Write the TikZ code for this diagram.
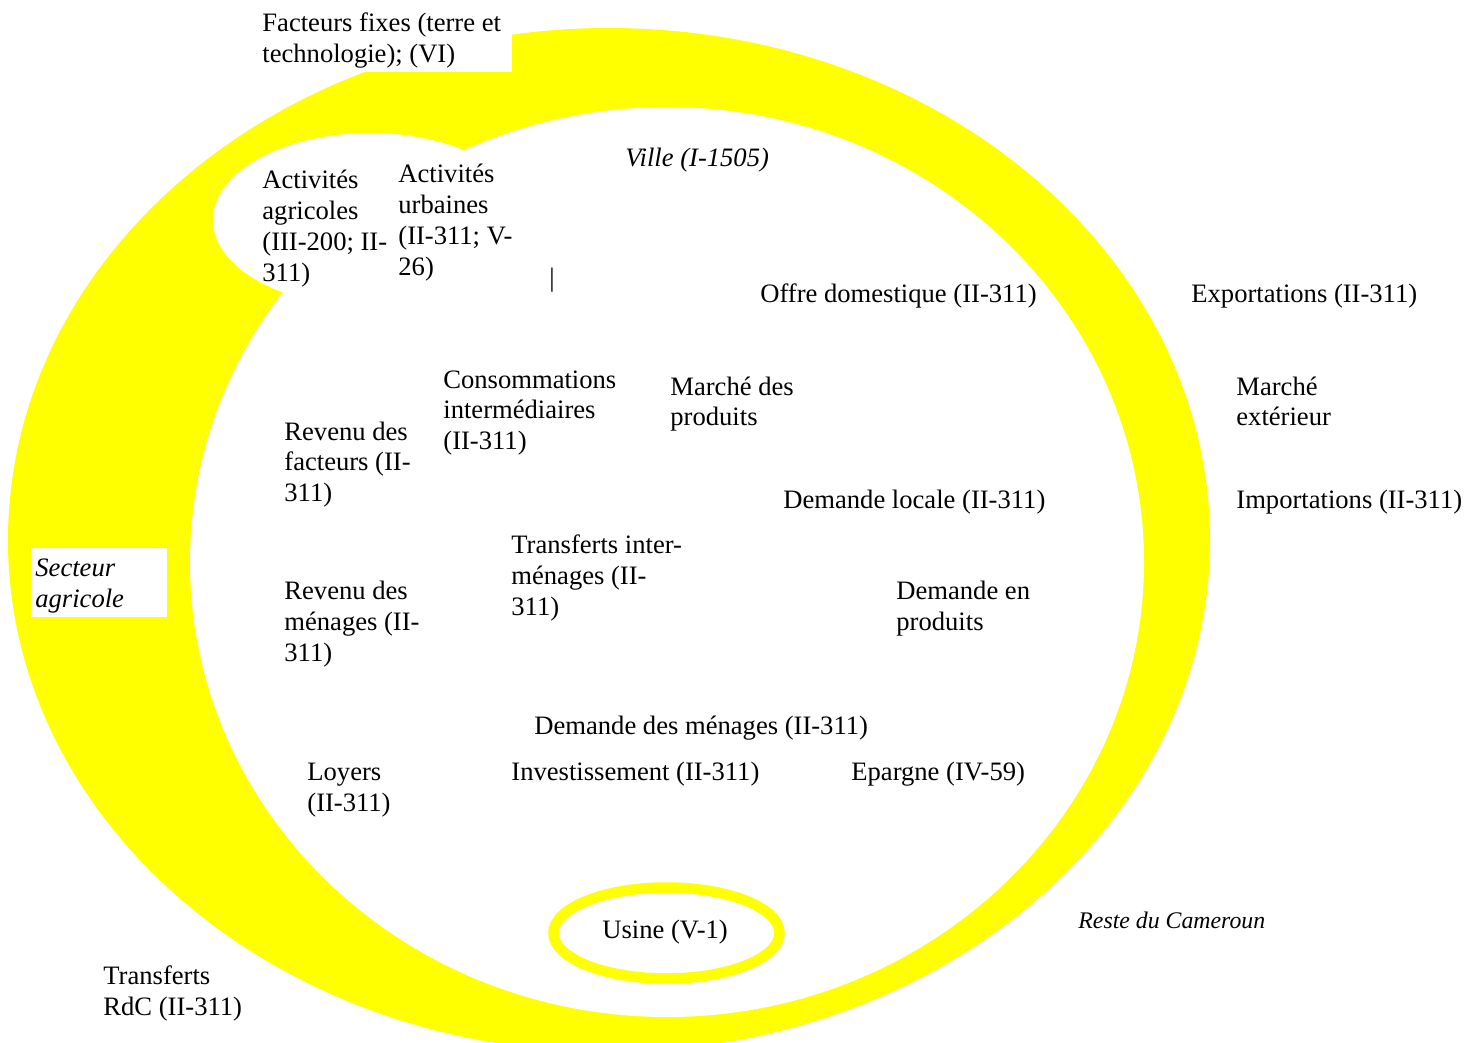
\documentclass[tikz,border=0pt]{standalone}
\usepackage{fontspec}
\setmainfont{Liberation Serif}
\definecolor{jaune}{RGB}{255,255,0}
\tikzset{
  lbl/.style={anchor=base west,inner sep=0pt,align=left,font=\fontsize{13.3pt}{15.5pt}\selectfont},
  lblit/.style={lbl,font=\fontsize{13.3pt}{15.5pt}\selectfont\itshape},
  lblsm/.style={lbl,font=\fontsize{11.9pt}{14pt}\selectfont\itshape},
  whitebox/.style={fill=white,draw=none}
}
\begin{document}
\begin{tikzpicture}[x=0.5pt,y=-0.5pt]
\useasboundingbox (0,0) rectangle (1479,1043);
\clip (0,0) rectangle (1479,1043);
% yellow crescent
\fill[jaune] (609,540) ellipse [x radius=300.5pt, y radius=256pt];
\fill[white] (667,562) ellipse [x radius=238.5pt, y radius=227.5pt];
\fill[white] (370,220) ellipse [x radius=78.5pt, y radius=43.5pt];
% white label boxes
\fill[whitebox] (255,0) rectangle (512,72);
\fill[whitebox] (31,548) rectangle (167,617);
% usine ring
\draw[jaune,line width=5.25pt] (666.5,933) ellipse [x radius=56.5pt, y radius=22.75pt];
% labels (anchor = baseline of the last line)
\node[lbl] (ff) at (262,63) {Facteurs fixes (terre et\\technologie); (VI)};
\node[lbl] (aa) at (262,282) {Activités\\agricoles\\(III-200; II-\\311)};
\node[lbl] (au) at (398,276) {Activités\\urbaines\\(II-311; V-\\26)};
\node[lblit] (vi) at (625,167) {Ville (I-1505)};
\node[lbl] (bar) at (549,287) {|};
\node[lbl] (od) at (760,303) {Offre domestique (II-311)};
\node[lbl] (ex) at (1191,303) {Exportations (II-311)};
\node[lbl] (ci) at (443,450) {Consommations\\intermédiaires\\(II-311)};
\node[lbl] (mp) at (670,426) {Marché des\\produits};
\node[lbl] (me) at (1236,426) {Marché\\extérieur};
\node[lbl] (rf) at (284,502) {Revenu des\\facteurs (II-\\311)};
\node[lbl] (dl) at (783,509) {Demande locale (II-311)};
\node[lbl] (im) at (1236,509) {Importations (II-311)};
\node[lbl] (ti) at (511,615) {Transferts inter-\\ménages (II-\\311)};
\node[lblit] (sa) at (35,607) {Secteur\\agricole};
\node[lbl] (rm) at (284,661) {Revenu des\\ménages (II-\\311)};
\node[lbl] (dp) at (896,630) {Demande en\\produits};
\node[lbl] (dm) at (534,734) {Demande des ménages (II-311)};
\node[lbl] (lo) at (307,811) {Loyers\\(II-311)};
\node[lbl] (in) at (511,780) {Investissement (II-311)};
\node[lbl] (ep) at (851,780) {Epargne (IV-59)};
\node[lbl] (us) at (602,938) {Usine (V-1)};
\node[lblsm] (rc) at (1078,928) {Reste du Cameroun};
\node[lbl] (tr) at (103,1015) {Transferts\\RdC (II-311)};
\end{tikzpicture}
\end{document}
